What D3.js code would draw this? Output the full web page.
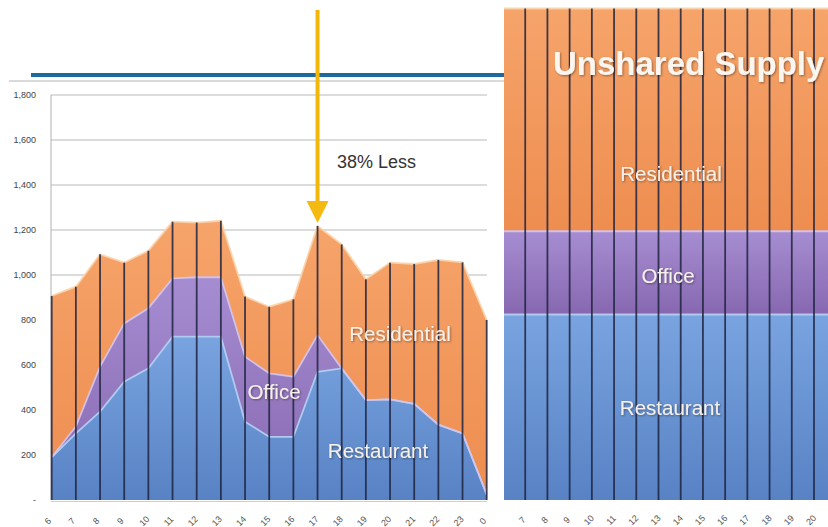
<!DOCTYPE html>
<html>
<head>
<meta charset="utf-8">
<script src="https://cdn.jsdelivr.net/npm/d3@7/dist/d3.min.js"></script>
<style>
  html, body { margin: 0; padding: 0; background: #fff; }
  svg { display: block; font-family: "Liberation Sans", Arial, sans-serif; }
</style>
</head>
<body>
<svg id="chart" width="828" height="527"></svg>
<script>
// Shared supply by hour of day (stacked)
const hours = ["6","7","8","9","10","11","12","13","14","15","16","17","18","19","20","21","22","23","0"];
const restaurant  = [190, 296, 393, 526, 585, 726, 726, 726, 348, 281, 281, 570, 585, 444, 447, 427, 335, 296, 25];
const office      = [0,   30,  200, 259, 267, 259, 264, 264, 289, 282, 267, 163, 0,   0,   0,   0,   0,   0,   0];
const residential = [717, 622, 499, 270, 256, 252, 243, 251, 267, 296, 344, 485, 551, 537, 608, 622, 732, 760, 775];

// Unshared supply (flat per hour)
const rightHours = [6, 7, 8, 9, 10, 11, 12, 13, 14, 15, 16, 17, 18, 19, 20, 21];
const rightLabels = [7, 8, 9, 10, 11, 12, 13, 14, 15, 16, 17, 18, 19, 20];
const unsharedRestaurant  = [825, 825, 825, 825, 825, 825, 825, 825, 825, 825, 825, 825, 825, 825, 825, 825];
const unsharedOffice      = [370, 370, 370, 370, 370, 370, 370, 370, 370, 370, 370, 370, 370, 370, 370, 370];
const unsharedResidential = [990, 990, 990, 990, 990, 990, 990, 990, 990, 990, 990, 990, 990, 990, 990, 990];

const yTicks = [0, 200, 400, 600, 800, 1000, 1200, 1400, 1600, 1800];
const keys = ["restaurant", "office", "residential"];
const peakHour = "17";

const svg = d3.select("#chart");
const defs = svg.append("defs");

// Layer gradients
const palette = {
  restaurant:  { top: "#79a4e0", bottom: "#5882c4", edge: "#b3d0f3" },
  office:      { top: "#a68dd2", bottom: "#8768b0", edge: "#d4c4ef" },
  residential: { top: "#f6a46a", bottom: "#ee8d50", edge: "#fbd3a8" }
};
keys.forEach(k => {
  const g = defs.append("linearGradient").attr("id", "grad-" + k)
    .attr("x1", 0).attr("y1", 0).attr("x2", 0).attr("y2", 1);
  g.append("stop").attr("offset", "0%").attr("stop-color", palette[k].top);
  g.append("stop").attr("offset", "100%").attr("stop-color", palette[k].bottom);
});
const shadow = defs.append("filter").attr("id", "txtShadow")
  .attr("x", "-10%").attr("y", "-30%").attr("width", "130%").attr("height", "170%");
shadow.append("feDropShadow").attr("dx", 1).attr("dy", 1).attr("stdDeviation", 0.8)
  .attr("flood-color", "#000").attr("flood-opacity", 0.4);
defs.append("clipPath").attr("id", "rightClip")
  .append("rect").attr("x", 504).attr("y", 0).attr("width", 324).attr("height", 527);

// Scales
const y = d3.scaleLinear().domain([0, 1800]).range([500, 95]);
const x = d3.scalePoint().domain(hours).range([51.7, 486.7]);
const xr = d3.scaleLinear().domain([6, 20]).range([503, 814]);

// Header rules
svg.append("line").attr("x1", 9).attr("x2", 505).attr("y1", 81).attr("y2", 81)
  .attr("stroke", "#b4b4b4").attr("stroke-width", 1);
svg.append("line").attr("x1", 31).attr("x2", 508).attr("y1", 75).attr("y2", 75)
  .attr("stroke", "#1d6a9c").attr("stroke-width", 4);

// Left chart: gridlines and axis
const left = svg.append("g");
left.selectAll(".grid").data(yTicks.filter(d => d > 0)).join("line")
  .attr("x1", 51).attr("x2", 487)
  .attr("y1", d => y(d)).attr("y2", d => y(d))
  .attr("stroke", "#b9b9b9").attr("stroke-width", 1);
left.append("line").attr("x1", 51).attr("x2", 51).attr("y1", y(1800)).attr("y2", y(0))
  .attr("stroke", "#b0b0b0");
left.append("line").attr("x1", 51).attr("x2", 487).attr("y1", y(0) + 1.5).attr("y2", y(0) + 1.5)
  .attr("stroke", "#cfcfcf");

left.selectAll(".ylab").data(yTicks).join("text")
  .attr("x", 36).attr("y", d => y(d)).attr("dy", "0.35em")
  .attr("text-anchor", "end").attr("font-size", 9).attr("fill", "#444")
  .text(d => d === 0 ? "-" : d3.format(",")(d));

// Stacked areas
const rows = hours.map((h, i) => ({ hour: h, restaurant: restaurant[i], office: office[i], residential: residential[i] }));
const series = d3.stack().keys(keys)(rows);
const area = d3.area().x(d => x(d.data.hour)).y0(d => y(d[0])).y1(d => y(d[1]));
const topLine = d3.line().x(d => x(d.data.hour)).y(d => y(d[1]));

left.selectAll(".layer").data(series).join("path")
  .attr("d", area).attr("fill", d => `url(#grad-${d.key})`);
left.selectAll(".edge").data(series).join("path")
  .attr("d", topLine).attr("fill", "none")
  .attr("stroke", d => palette[d.key].edge).attr("stroke-width", 1.8).attr("opacity", 0.9);

const totals = series[series.length - 1];
left.selectAll(".vline").data(totals).join("line")
  .attr("x1", d => x(d.data.hour)).attr("x2", d => x(d.data.hour))
  .attr("y1", d => y(d[1])).attr("y2", y(0))
  .attr("stroke", "#1f2440").attr("stroke-width", 1.8).attr("opacity", 0.85);

left.selectAll(".xlab").data(hours).join("text")
  .attr("transform", d => `translate(${x(d) - 4},${521}) rotate(-45)`)
  .attr("text-anchor", "middle").attr("dy", "0.35em")
  .attr("font-size", 9).attr("fill", "#555").text(d => d);

// Left chart layer labels
const lblStyle = sel => sel.attr("text-anchor", "middle").attr("font-size", 20.5)
  .attr("fill", "#f7f0e8").attr("filter", "url(#txtShadow)");
left.append("text").attr("x", 400).attr("y", 341).text("Residential").call(lblStyle);
left.append("text").attr("x", 274).attr("y", 399).text("Office").call(lblStyle);
left.append("text").attr("x", 378).attr("y", 458).text("Restaurant").call(lblStyle);

// Right chart: unshared supply
const right = svg.append("g").attr("clip-path", "url(#rightClip)");
const rRows = rightHours.map((h, i) => ({ hour: h, restaurant: unsharedRestaurant[i], office: unsharedOffice[i], residential: unsharedResidential[i] }));
const rSeries = d3.stack().keys(keys)(rRows);
const rArea = d3.area().x(d => xr(d.data.hour)).y0(d => y(d[0])).y1(d => y(d[1]));
const rTop = d3.line().x(d => xr(d.data.hour)).y(d => y(d[1]));
right.selectAll(".rlayer").data(rSeries).join("path")
  .attr("d", rArea).attr("fill", d => `url(#grad-${d.key})`);
right.selectAll(".redge").data(rSeries).join("path")
  .attr("d", rTop).attr("fill", "none")
  .attr("stroke", d => palette[d.key].edge).attr("stroke-width", 2).attr("opacity", 0.9);
const rTotals = rSeries[rSeries.length - 1].filter(d => rightLabels.includes(d.data.hour));
right.selectAll(".rvline").data(rTotals).join("line")
  .attr("x1", d => xr(d.data.hour)).attr("x2", d => xr(d.data.hour))
  .attr("y1", d => y(d[1])).attr("y2", y(0))
  .attr("stroke", "#1f2440").attr("stroke-width", 1.8).attr("opacity", 0.85);

svg.selectAll(".rxlab").data(rightLabels).join("text")
  .attr("transform", d => `translate(${xr(d) - 3},${520}) rotate(-45)`)
  .attr("text-anchor", "middle").attr("dy", "0.35em")
  .attr("font-size", 9).attr("fill", "#555").text(d => d);

svg.append("text").attr("x", 671).attr("y", 181).text("Residential").call(lblStyle);
svg.append("text").attr("x", 668).attr("y", 283).text("Office").call(lblStyle);
svg.append("text").attr("x", 670).attr("y", 415).text("Restaurant").call(lblStyle);

svg.append("text").attr("x", 553).attr("y", 75)
  .attr("font-size", 33).attr("font-weight", "bold").attr("fill", "#fbf6f0")
  .attr("filter", "url(#txtShadow)").text("Unshared Supply");

// Arrow pointing at the shared peak
const peakIdx = hours.indexOf(peakHour);
const ax = x(peakHour);
const ay = y(totals[peakIdx][1]) - 3;
svg.append("line").attr("x1", ax).attr("x2", ax).attr("y1", 10).attr("y2", ay - 12)
  .attr("stroke", "#f3b60a").attr("stroke-width", 4);
svg.append("path")
  .attr("d", `M${ax - 11},${ay - 22} L${ax + 11},${ay - 22} L${ax},${ay} Z`)
  .attr("fill", "#f5ba12");
svg.append("text").attr("x", 337).attr("y", 168)
  .attr("font-size", 18).attr("fill", "#333").text("38% Less");
</script>
</body>
</html>
